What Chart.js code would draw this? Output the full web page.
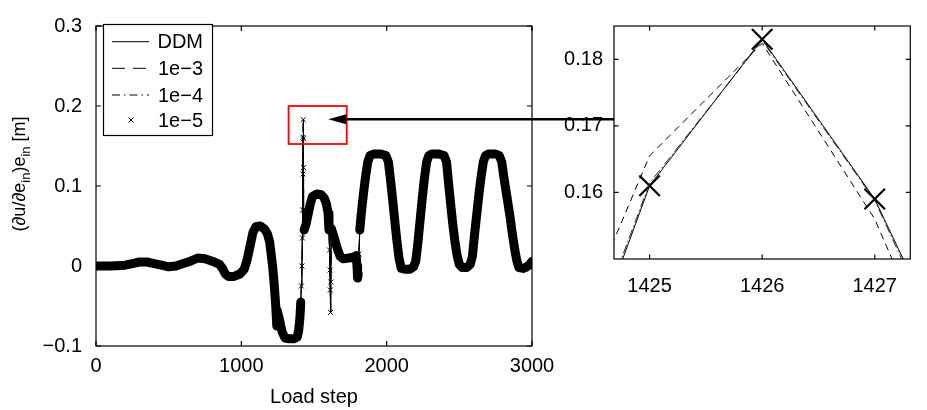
<!DOCTYPE html>
<html lang="en">
<head>
<meta charset="UTF-8" />
<title>Load step response</title>
<script src="https://cdn.jsdelivr.net/npm/chart.js"></script>
<style>
  body { margin: 0; background: #fff; }
  #wrap { position: relative; width: 927px; height: 410px; }
  #wrap canvas { position: absolute; left: 0; top: 0; }
</style>
</head>
<body>
<div id="wrap">
  <canvas id="main" width="927" height="410"></canvas>
  <canvas id="zoom" width="927" height="410"></canvas>
</div>
<script>
  const seriesNames = ['DDM', '1e−3', '1e−4', '1e−5'];

  // === MAIN PLOT (the four runs coincide at this scale) ===
  const loadStep = [
    0, 100, 200, 250, 300, 350, 400, 450, 500, 550,
    600, 650, 700, 750, 800, 850, 870, 890, 910, 950,
    990, 1020, 1040, 1060, 1080, 1100, 1130, 1160, 1180, 1195,
    1205, 1215, 1225, 1235, 1241, 1244, 1246, 1260, 1280, 1300,
    1330, 1360, 1385, 1395, 1403, 1409, 1413, 1417, 1420, 1422,
    1424, 1425, 1426, 1427, 1428, 1430, 1432, 1445, 1460, 1475,
    1490, 1520, 1550, 1570, 1585, 1597, 1603, 1607, 1610, 1612,
    1614, 1616, 1619, 1640, 1660, 1680, 1700, 1740, 1770, 1790,
    1796, 1800, 1804, 1809, 1815, 1825, 1840, 1855, 1870, 1885,
    1910, 1960, 1995, 2012, 2025, 2040, 2055, 2070, 2085, 2100,
    2130, 2160, 2185, 2200, 2215, 2230, 2245, 2260, 2275, 2290,
    2310, 2360, 2395, 2412, 2425, 2440, 2455, 2470, 2485, 2500,
    2520, 2550, 2575, 2590, 2605, 2620, 2635, 2650, 2665, 2680,
    2700, 2750, 2775, 2792, 2805, 2820, 2835, 2850, 2865, 2880,
    2895, 2910, 2940, 2965, 2985, 3000
  ];
  const response = [
    0.000, 0.000, 0.001, 0.003, 0.005, 0.005, 0.003, 0.001, -0.001, 0.000,
    0.003, 0.006, 0.010, 0.009, 0.006, 0.002, -0.003, -0.010, -0.013, -0.013,
    -0.010, -0.004, 0.008, 0.025, 0.042, 0.049, 0.050, 0.046, 0.040, 0.030,
    0.015, 0.000, -0.020, -0.045, -0.065, -0.075, -0.055, -0.065, -0.082, -0.090,
    -0.091, -0.091, -0.089, -0.080, -0.065, -0.045, -0.025, 0.000, 0.035, 0.070,
    0.115, 0.161, 0.183, 0.159, 0.123, 0.070, 0.045, 0.052, 0.065, 0.078,
    0.087, 0.090, 0.089, 0.085, 0.078, 0.066, 0.045, 0.020, -0.005, -0.030,
    -0.058, -0.020, 0.047, 0.035, 0.022, 0.012, 0.009, 0.010, 0.011, 0.013,
    0.000, -0.015, -0.010, 0.015, 0.045, 0.065, 0.090, 0.112, 0.130, 0.138,
    0.140, 0.140, 0.138, 0.130, 0.110, 0.085, 0.058, 0.032, 0.010, -0.003,
    -0.004, -0.004, -0.001, 0.006, 0.029, 0.057, 0.085, 0.110, 0.130, 0.138,
    0.140, 0.140, 0.138, 0.130, 0.105, 0.078, 0.052, 0.030, 0.013, 0.002,
    -0.002, -0.002, 0.002, 0.012, 0.040, 0.065, 0.090, 0.112, 0.130, 0.138,
    0.140, 0.140, 0.138, 0.130, 0.113, 0.095, 0.078, 0.060, 0.040, 0.022,
    0.007, -0.002, -0.003, -0.001, 0.002, 0.006
  ];
  const xTicks = [0, 1000, 2000, 3000];
  const xTickLabels = ['0', '1000', '2000', '3000'];
  const yTicks = [-0.1, 0, 0.1, 0.2, 0.3];
  const yTickLabels = ['−0.1', '0', '0.1', '0.2', '0.3'];

  // red window on the main plot and arrow tip (data units)
  const boxStep = [1325, 1725];
  const boxValue = [0.1525, 0.2];
  const arrowTip = [1598, 0.1835];

  // === ZOOMED WINDOW ===
  const zoomStep = [1424, 1425, 1426, 1427, 1428];
  const zoomDDM = [0.115, 0.161, 0.183, 0.159, 0.1234];
  const zoom1e3 = [0.1255, 0.1655, 0.1824, 0.156, 0.117];
  const zoom1e4 = [0.116, 0.1614, 0.1828, 0.1588, 0.122];
  const zoom1e5 = [null, 0.161, 0.183, 0.159, null];
  const zoomXTicks = [1425, 1426, 1427];
  const zoomXTickLabels = ['1425', '1426', '1427'];
  const zoomYTicks = [0.16, 0.17, 0.18];
  const zoomYTickLabels = ['0.16', '0.17', '0.18'];

  const FONT = '"Liberation Sans", Arial, Helvetica, sans-serif';
  const INSET_LEFT = 614;
  const dashed = [10, 6];
  const dashDot = [8, 4, 1.5, 4];

  Chart.defaults.font.family = FONT;
  Chart.defaults.font.size = 20;
  Chart.defaults.color = '#000';

  const pts = (xs, ys) => xs.map((x, i) => ({ x, y: ys[i] }));
  const steep = c => Math.abs(c.p1.y - c.p0.y) > 25 * Math.max(Math.abs(c.p1.x - c.p0.x), 0.01);

  function fixedTicks(values, labels) {
    return {
      afterBuildTicks: s => { s.ticks = values.map(v => ({ value: v })); },
      ticks: { callback: v => labels[values.indexOf(v)] ?? '' }
    };
  }

  // box round the plot area with small inward ticks on all four sides
  const frame = {
    id: 'frame',
    afterDraw(chart, args, opts) {
      const { ctx, chartArea: a, scales: { x, y } } = chart;
      const t = opts.tick || 5;
      ctx.save();
      ctx.strokeStyle = '#000';
      ctx.lineWidth = 1.2;
      ctx.strokeRect(a.left, a.top, a.right - a.left, a.bottom - a.top);
      ctx.beginPath();
      x.ticks.forEach(tk => {
        const px = x.getPixelForValue(tk.value);
        ctx.moveTo(px, a.bottom); ctx.lineTo(px, a.bottom - t);
        ctx.moveTo(px, a.top); ctx.lineTo(px, a.top + t);
      });
      y.ticks.forEach(tk => {
        const py = y.getPixelForValue(tk.value);
        ctx.moveTo(a.left, py); ctx.lineTo(a.left + t, py);
        ctx.moveTo(a.right, py); ctx.lineTo(a.right - t, py);
      });
      ctx.stroke();
      ctx.restore();
    }
  };

  function cross(ctx, x, y, h, w) {
    ctx.save();
    ctx.lineWidth = w;
    ctx.setLineDash([]);
    ctx.beginPath();
    ctx.moveTo(x - h, y - h); ctx.lineTo(x + h, y + h);
    ctx.moveTo(x - h, y + h); ctx.lineTo(x + h, y - h);
    ctx.stroke();
    ctx.restore();
  }

  const legendBox = {
    id: 'legendBox',
    afterDraw(chart) {
      const ctx = chart.ctx;
      const rows = [41.7, 68.3, 95, 120];
      ctx.save();
      ctx.fillStyle = '#fff';
      ctx.fillRect(103, 24, 109, 111);
      ctx.strokeStyle = '#000';
      ctx.lineWidth = 1.2;
      ctx.strokeRect(103.5, 24.5, 109, 111);
      ctx.fillStyle = '#000';
      ctx.font = '20px ' + FONT;
      ctx.textBaseline = 'middle';
      ctx.textAlign = 'right';
      const dashes = [[], [13, 8], dashDot, null];
      rows.forEach((ry, i) => {
        if (dashes[i]) {
          ctx.lineWidth = 1;
          ctx.setLineDash(dashes[i]);
          ctx.beginPath();
          ctx.moveTo(112, ry); ctx.lineTo(149, ry);
          ctx.stroke();
          ctx.setLineDash([]);
        } else {
          cross(ctx, 131, ry, 2.5, 1);
        }
        ctx.fillText(seriesNames[i], 203, ry + 1);
      });
      ctx.restore();
    }
  };

  const yTitle = {
    id: 'yTitle',
    afterDraw(chart) {
      const ctx = chart.ctx;
      const parts = [['(∂u/∂e', 0], ['in', 1], [')e', 0], ['in', 1], [' [m]', 0]];
      const big = '18px ' + FONT, small = '13px ' + FONT;
      ctx.save();
      ctx.translate(25, 174);
      ctx.rotate(-Math.PI / 2);
      ctx.fillStyle = '#000';
      ctx.textBaseline = 'alphabetic';
      let total = 0;
      parts.forEach(([s, sub]) => { ctx.font = sub ? small : big; total += ctx.measureText(s).width; });
      let cx = -total / 2;
      parts.forEach(([s, sub]) => {
        ctx.font = sub ? small : big;
        ctx.fillText(s, cx, sub ? 5 : 0);
        cx += ctx.measureText(s).width;
      });
      ctx.restore();
    }
  };

  const zoomMarker = {
    id: 'zoomMarker',
    afterDraw(chart) {
      const { ctx, scales: { x, y } } = chart;
      const x0 = x.getPixelForValue(boxStep[0]), x1 = x.getPixelForValue(boxStep[1]);
      const y0 = y.getPixelForValue(boxValue[1]), y1 = y.getPixelForValue(boxValue[0]);
      ctx.save();
      ctx.strokeStyle = '#ff0000';
      ctx.lineWidth = 1.8;
      ctx.strokeRect(x0, y0, x1 - x0, y1 - y0);
      const tx = x.getPixelForValue(arrowTip[0]), ty = y.getPixelForValue(arrowTip[1]);
      ctx.strokeStyle = '#000';
      ctx.fillStyle = '#000';
      ctx.lineWidth = 2.6;
      ctx.beginPath();
      ctx.moveTo(tx + 16, ty); ctx.lineTo(INSET_LEFT, ty);
      ctx.stroke();
      ctx.beginPath();
      ctx.moveTo(tx, ty); ctx.lineTo(tx + 18, ty - 5); ctx.lineTo(tx + 18, ty + 5);
      ctx.closePath();
      ctx.fill();
      ctx.restore();
    }
  };

  const mainData = pts(loadStep, response);

  new Chart(document.getElementById('main'), {
    type: 'line',
    data: {
      datasets: [
        { label: seriesNames[3], data: mainData, borderColor: '#000', borderWidth: 9,
          borderJoinStyle: 'round', borderCapStyle: 'round',
          segment: { borderWidth: c => steep(c) ? 1 : 9 },
          pointStyle: 'crossRot', pointRadius: 3.5, pointBorderWidth: 1,
          pointBorderColor: '#000', pointBackgroundColor: '#000' },
        { label: seriesNames[0], data: mainData, borderColor: '#000', borderWidth: 1, pointRadius: 0 },
        { label: seriesNames[1], data: mainData, borderColor: '#000', borderWidth: 1, borderDash: dashed, pointRadius: 0 },
        { label: seriesNames[2], data: mainData, borderColor: '#000', borderWidth: 1, borderDash: dashDot, pointRadius: 0 }
      ]
    },
    options: {
      responsive: false,
      animation: false,
      events: [],
      layout: { padding: { left: 0, right: 395, top: 17, bottom: 0 } },
      scales: {
        x: {
          type: 'linear', min: 0, max: 3000,
          ...fixedTicks(xTicks, xTickLabels),
          afterFit: s => { s.height = 64; },
          grid: { display: false, drawTicks: false },
          border: { display: false },
          ticks: { callback: v => xTickLabels[xTicks.indexOf(v)] ?? '', padding: 8, maxRotation: 0 },
          title: { display: true, text: 'Load step', font: { size: 20 }, padding: { top: 0, bottom: 1 } }
        },
        y: {
          type: 'linear', min: -0.1, max: 0.3,
          ...fixedTicks(yTicks, yTickLabels),
          afterFit: s => { s.width = 96; },
          grid: { display: false, drawTicks: false },
          border: { display: false },
          ticks: { callback: v => yTickLabels[yTicks.indexOf(v)] ?? '', padding: 14 }
        }
      },
      plugins: {
        legend: { display: false },
        tooltip: { enabled: false },
        frame: { tick: 5 }
      }
    },
    plugins: [frame, legendBox, yTitle, zoomMarker]
  });

  // === INSET ===
  new Chart(document.getElementById('zoom'), {
    type: 'line',
    data: {
      datasets: [
        { label: seriesNames[0], data: pts(zoomStep, zoomDDM), borderColor: '#000', borderWidth: 1, pointRadius: 0 },
        { label: seriesNames[1], data: pts(zoomStep, zoom1e3), borderColor: '#000', borderWidth: 1, borderDash: [7, 5], pointRadius: 0 },
        { label: seriesNames[2], data: pts(zoomStep, zoom1e4), borderColor: '#333', borderWidth: 1, borderDash: [9, 3, 1.5, 3], pointRadius: 0 },
        { label: seriesNames[3], data: pts(zoomStep, zoom1e5), showLine: false,
          pointStyle: 'crossRot', pointRadius: 14.5, pointBorderWidth: 2.2, pointBorderColor: '#000' }
      ]
    },
    options: {
      responsive: false,
      animation: false,
      events: [],
      layout: { padding: { left: INSET_LEFT - 94, right: 1, top: 26, bottom: 111 } },
      scales: {
        x: {
          type: 'linear', min: 1424.684, max: 1427.316,
          ...fixedTicks(zoomXTicks, zoomXTickLabels),
          afterFit: s => { s.height = 40; },
          grid: { display: false, drawTicks: false },
          border: { display: false },
          ticks: { callback: v => zoomXTickLabels[zoomXTicks.indexOf(v)] ?? '', padding: 15, maxRotation: 0 }
        },
        y: {
          type: 'linear', min: 0.15, max: 0.185,
          ...fixedTicks(zoomYTicks, zoomYTickLabels),
          afterFit: s => { s.width = 94; },
          grid: { display: false, drawTicks: false },
          border: { display: false },
          ticks: { callback: v => zoomYTickLabels[zoomYTicks.indexOf(v)] ?? '', padding: 11 }
        }
      },
      plugins: {
        legend: { display: false },
        tooltip: { enabled: false },
        frame: { tick: 4.5 }
      }
    },
    plugins: [frame]
  });
</script>
</body>
</html>
